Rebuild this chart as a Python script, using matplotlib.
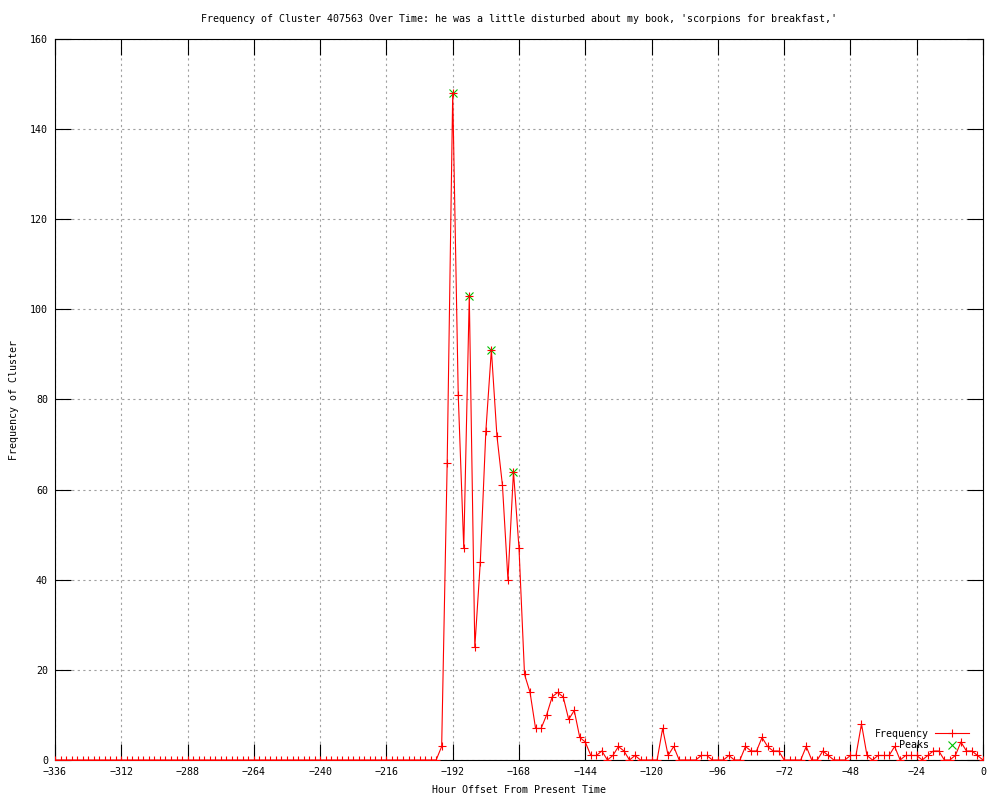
import numpy as np
import matplotlib
matplotlib.use("Agg")
import matplotlib.pyplot as plt

# hourly offsets (every 2 hours) and cluster frequency
hours = list(range(-336, 1, 2))
freq_quiet = [0] * 70  # -336 .. -198
freq_active = [3, 66, 148, 81, 47, 103, 25, 44, 73, 91, 72, 61, 40, 64, 47,
               19, 15, 7, 7, 10, 14, 15, 14, 9, 11, 5, 4, 1, 1, 2, 0, 1, 3, 2,
               0, 1, 0, 0, 0, 0, 7, 1, 3, 0, 0, 0, 0, 1, 1, 0, 0, 0, 1, 0, 0,
               3, 2, 2, 5, 3, 2, 2, 0, 0, 0, 0, 3, 0, 0, 2, 1, 0, 0, 0, 1, 1,
               8, 1, 0, 1, 1, 1, 3, 0, 1, 1, 1, 0, 1, 2, 2, 0, 0, 1, 4, 2, 2,
               1, 0]  # -196 .. 0
frequency = freq_quiet + freq_active

peak_hours = [-192, -186, -178, -170]
peak_values = [148, 103, 91, 64]

xticks = list(range(-336, 1, 24))
yticks = list(range(0, 161, 20))

fs = 7.2
plt.rcParams['font.family'] = ['DejaVu Sans Mono']
plt.rcParams['font.size'] = fs

fig = plt.figure(figsize=(10, 8), dpi=100)
ax = fig.add_axes([0.055, 0.05, 0.928, 0.90125])

ax.plot(peak_hours, peak_values, linestyle='none', marker='x', color='#00c000',
        markersize=6.2, markeredgewidth=0.8, label='Peaks', zorder=3)
ax.plot(hours, frequency, color='red', linewidth=0.8, marker='+',
        markersize=6.2, markeredgewidth=0.8, label='Frequency', zorder=4)

ax.set_xlim(-336, 0)
ax.set_ylim(0, 160)
ax.set_xticks(xticks)
ax.set_yticks(yticks)
ax.tick_params(direction='in', length=11.5, width=0.8, top=True, right=True,
               pad=5, colors='black', labelsize=fs)
ax.grid(True, color='#a0a0a0', linestyle=(0, (2, 3)), linewidth=0.8)
ax.set_axisbelow(True)
for s in ax.spines.values():
    s.set_linewidth(0.8)

ax.set_title("Frequency of Cluster 407563 Over Time: he was a little disturbed about my book, 'scorpions for breakfast,'",
             pad=12, fontsize=fs)
ax.set_xlabel('Hour Offset From Present Time', labelpad=6, fontsize=fs)
ax.set_ylabel('Frequency of Cluster', labelpad=8, fontsize=fs)

handles, labels = ax.get_legend_handles_labels()
ax.legend(handles[::-1], labels[::-1], loc='lower right', frameon=False,
          markerfirst=False, handlelength=3.4, handletextpad=0.6,
          labelspacing=0.15, bbox_to_anchor=(0.992, 0.004), borderaxespad=0.3,
          fontsize=fs)

fig.savefig('out.png', dpi=100)
